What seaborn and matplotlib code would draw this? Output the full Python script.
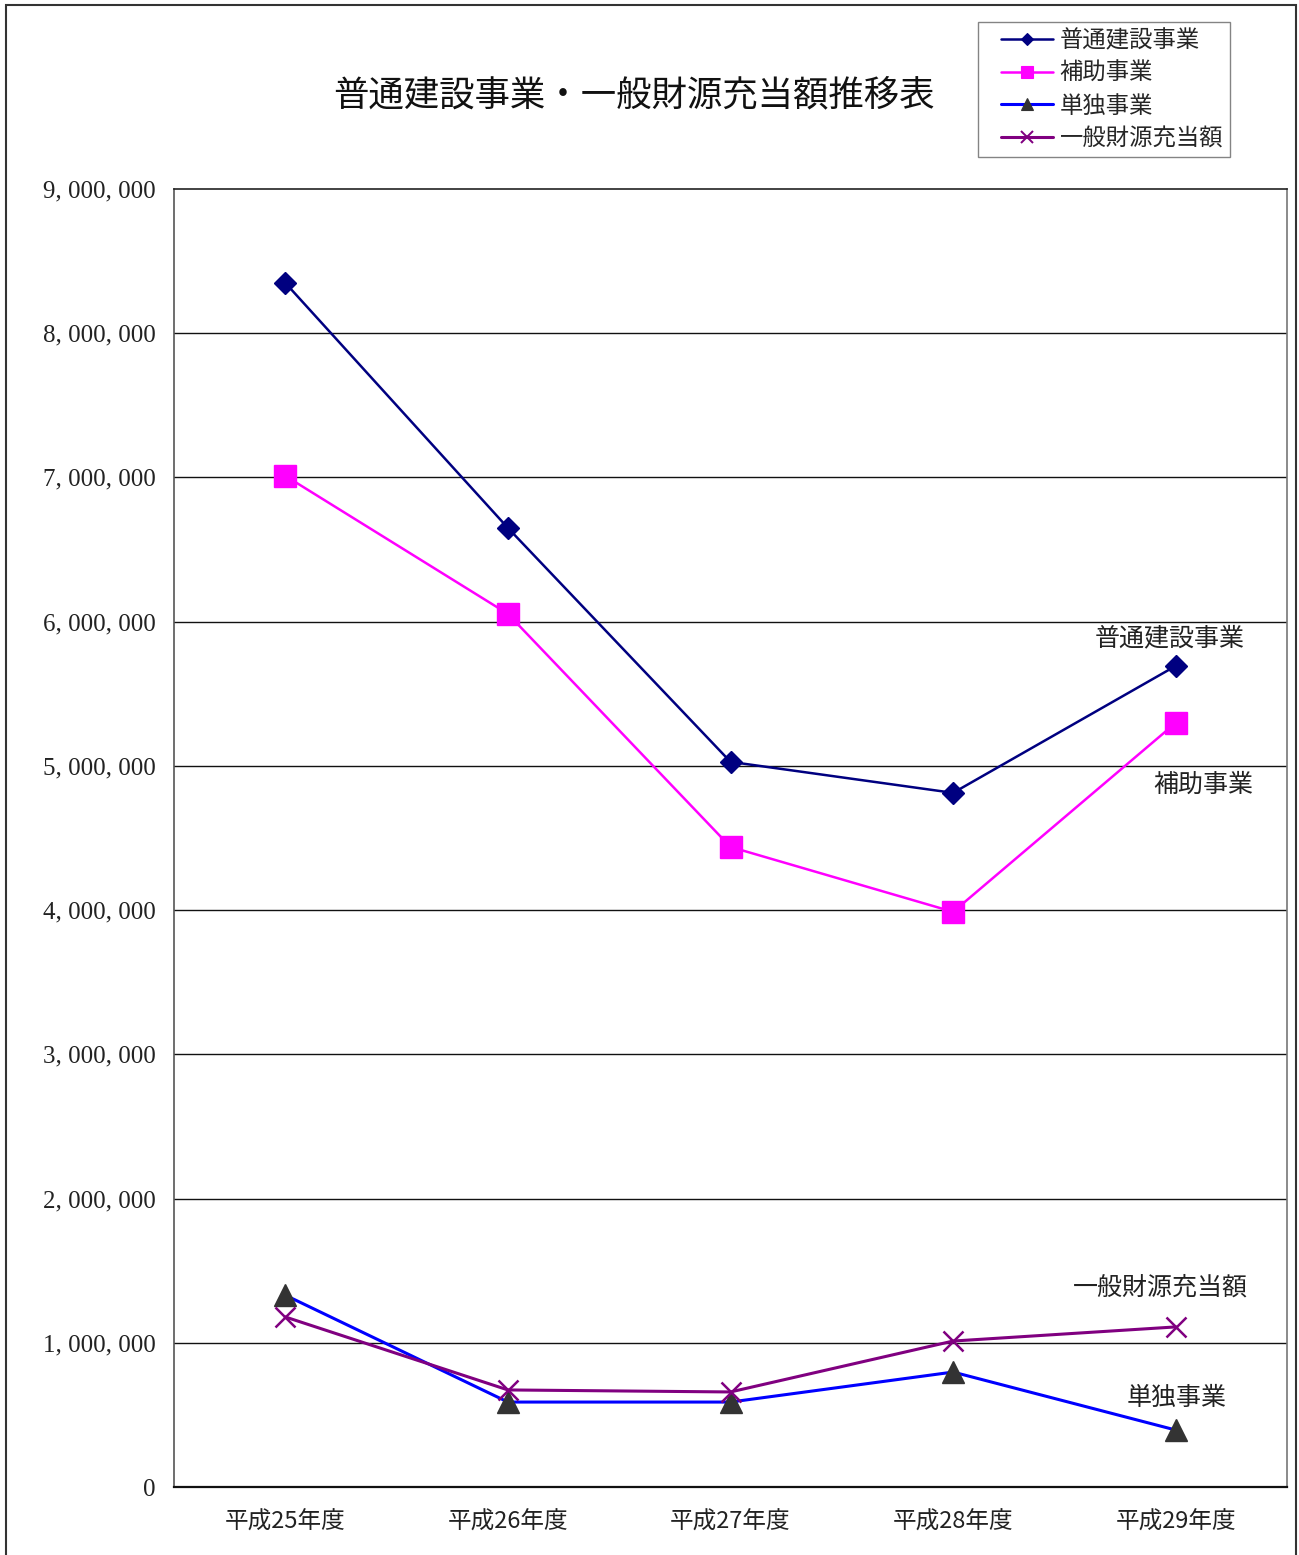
import matplotlib
matplotlib.use("Agg")
import matplotlib.pyplot as plt
from matplotlib.lines import Line2D
from matplotlib.legend_handler import HandlerLine2D
from matplotlib.patches import Rectangle
import seaborn as sns
import pandas as pd

# Fiscal years and amounts (yen, thousands)
years = ["平成25年度", "平成26年度", "平成27年度", "平成28年度", "平成29年度"]
futsu_kensetsu = [8349000, 6650000, 5028000, 4813000, 5693000]
hojo_jigyo = [7011000, 6054000, 4438000, 3988000, 5298000]
tandoku_jigyo = [1330000, 589000, 589000, 797000, 395000]
ippan_zaigen = [1179000, 673000, 659000, 1012000, 1110000]

series_names = ["普通建設事業", "補助事業", "単独事業", "一般財源充当額"]
yticks = list(range(0, 9000001, 1000000))

sns.set_theme(style="white")
plt.rcParams["font.family"] = ["Noto Sans CJK JP", "DejaVu Sans"]

CJK = ["Noto Sans CJK JP", "DejaVu Sans"]
SERIF = ["Liberation Serif", "DejaVu Serif"]

df = pd.DataFrame({
    "idx": list(range(len(years))) * 4,
    "value": futsu_kensetsu + hojo_jigyo + tandoku_jigyo + ippan_zaigen,
    "series": sum([[n] * len(years) for n in series_names], []),
})

fig = plt.figure(figsize=(12.99, 15.55), dpi=100)
ax = fig.add_axes([174 / 1299, 1 - 1487 / 1555, (1287 - 174) / 1299, (1487 - 189) / 1555])

styles = {
    "普通建設事業": dict(color="#000080", marker="D", markersize=11.5,
                    markerfacecolor="#000080", markeredgecolor="#000080", linewidth=1.8),
    "補助事業": dict(color="#FF00FF", marker="s", markersize=16,
                 markerfacecolor="#FF00FF", markeredgecolor="#FF00FF", linewidth=1.8),
    "単独事業": dict(color="#0000FF", marker="^", markersize=16,
                 markerfacecolor="#333333", markeredgecolor="#333333", linewidth=2.2),
    "一般財源充当額": dict(color="#800080", marker="x", markersize=15,
                    markeredgecolor="#800080", markeredgewidth=1.8, linewidth=2.2),
}

handles = []
for name in series_names:
    sub = df[df["series"] == name]
    st = styles[name]
    sns.lineplot(data=sub, x="idx", y="value", ax=ax, legend=False,
                 color=st["color"], marker=st["marker"], markersize=st["markersize"],
                 markerfacecolor=st.get("markerfacecolor", "none"),
                 markeredgecolor=st["markeredgecolor"],
                 markeredgewidth=st.get("markeredgewidth", 1.0),
                 linewidth=st["linewidth"], zorder=3, clip_on=False)
    handles.append(Line2D([0], [0], color=st["color"], marker=st["marker"],
                          markersize=st["markersize"] * 0.55,
                          markerfacecolor=st.get("markerfacecolor", "none"),
                          markeredgecolor=st["markeredgecolor"],
                          markeredgewidth=st.get("markeredgewidth", 1.0) * 0.8,
                          linewidth=st["linewidth"]))

ax.set_xlim(-0.5, len(years) - 0.5)
ax.set_ylim(0, 9000000)
ax.set_yticks(yticks)
ax.set_yticklabels([f"{v:,}".replace(",", ", ") for v in yticks],
                   family=SERIF, fontsize=18, color="#222222")
ax.set_xticks(range(len(years)))
ax.set_xticklabels(years, family=CJK, fontsize=17, color="#222222")
ax.set_xticks([i + 0.5 for i in range(len(years) - 1)], minor=True)
ax.tick_params(axis="x", which="major", length=0, pad=17)
ax.tick_params(axis="x", which="minor", length=7, width=1, color="#333333", direction="in")
ax.tick_params(axis="y", length=0, pad=13)
ax.set_xlabel("")
ax.set_ylabel("")
ax.grid(False)
for v in yticks[1:-1]:
    ax.axhline(v, color="#111111", linewidth=1.0, zorder=1)
for side in ["left", "top", "right", "bottom"]:
    ax.spines[side].set_visible(True)
    ax.spines[side].set_linewidth(1.2)
ax.spines["left"].set_color("#555555")
ax.spines["right"].set_color("#777777")
ax.spines["top"].set_color("#222222")
ax.spines["bottom"].set_color("#111111")
ax.spines["bottom"].set_linewidth(1.6)

# Series labels near the last fiscal year
lbl = dict(family=CJK, fontsize=18, color="#222222", ha="center", va="center")
ax.annotate("普通建設事業", xy=(4, futsu_kensetsu[-1]), xytext=(-6, 28), textcoords="offset pixels", **lbl)
ax.annotate("補助事業", xy=(4, hojo_jigyo[-1]), xytext=(28, -62), textcoords="offset pixels", **lbl)
ax.annotate("一般財源充当額", xy=(4, ippan_zaigen[-1]), xytext=(-15, 39), textcoords="offset pixels", **lbl)
ax.annotate("単独事業", xy=(4, tandoku_jigyo[-1]), xytext=(1, 32), textcoords="offset pixels", **lbl)

fig.text(634 / 1299, 1 - 95 / 1555, "普通建設事業・一般財源充当額推移表",
         family=CJK, fontsize=25.5, ha="center", va="center", color="#111111")

leg = fig.legend(handles, series_names, loc="upper left",
                 bbox_to_anchor=(978 / 1299, 1 - 22 / 1555),
                 bbox_transform=fig.transFigure,
                 prop={"family": CJK, "size": 16.8}, frameon=True, fancybox=False,
                 handlelength=2.9, handletextpad=0.3, labelspacing=0.42,
                 borderpad=0.3, borderaxespad=0,
                 handler_map={Line2D: HandlerLine2D(xpad=0.68)})
leg.get_frame().set_edgecolor("#666666")
leg.get_frame().set_linewidth(1.0)

# Outer chart border
fig.patches.append(Rectangle((6 / 1299, -0.01), (1296 - 6) / 1299, 1.01 - 5 / 1555,
                             transform=fig.transFigure, fill=False,
                             edgecolor="#333333", linewidth=1.5))

fig.savefig("out.png", dpi=100, facecolor="white")
